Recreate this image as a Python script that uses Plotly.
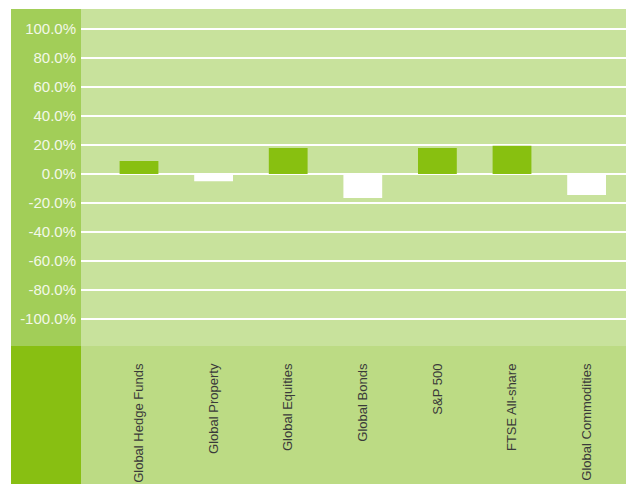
import plotly.graph_objects as go

categories = ["Global Hedge Funds", "Global Property", "Global Equities", "Global Bonds",
              "S&P 500", "FTSE All-share", "Global Commodities"]
returns_pct = [9.0, -5.0, 18.0, -16.5, 18.0, 19.5, -14.5]
tick_values = [100, 80, 60, 40, 20, 0, -20, -40, -60, -80, -100]
tick_labels = ["100.0%", "80.0%", "60.0%", "40.0%", "20.0%", "0.0%",
               "-20.0%", "-40.0%", "-60.0%", "-80.0%", "-100.0%"]

POS = "#88c010"
NEG = "#ffffff"
PLOT_BG = "#c8e29c"
LEFT_COL = "#a2ce58"
BOTTOM_BG = "#bcdb84"
BOTTOM_LEFT = "#88bf12"

W, H = 626, 484
ML, MR, MT, MB = 81, 0, 9, 138
pw = W - ML - MR
ph = H - MT - MB

def px_x(p):
    return (p - ML) / pw

def px_y(p):
    return (H - MB - p) / ph

fig = go.Figure()
fig.add_trace(go.Bar(
    x=categories,
    y=returns_pct,
    width=0.52,
    marker=dict(color=[POS if v >= 0 else NEG for v in returns_pct],
                line=dict(width=0)),
    hoverinfo="x+y",
))

shapes = [
    dict(type="rect", xref="paper", yref="paper", x0=px_x(11), x1=0, y0=0, y1=1,
         fillcolor=LEFT_COL, line=dict(width=0), layer="below"),
    dict(type="rect", xref="paper", yref="paper", x0=0, x1=1, y0=px_y(H), y1=0,
         fillcolor=BOTTOM_BG, line=dict(width=0), layer="below"),
    dict(type="rect", xref="paper", yref="paper", x0=px_x(11), x1=0, y0=px_y(H), y1=0,
         fillcolor=BOTTOM_LEFT, line=dict(width=0), layer="below"),
]

fig.update_layout(
    width=W, height=H,
    margin=dict(l=ML, r=MR, t=MT, b=MB, pad=0),
    paper_bgcolor="white",
    plot_bgcolor=PLOT_BG,
    showlegend=False,
    shapes=shapes,
    font=dict(family="Liberation Sans, Arial, sans-serif"),
    xaxis=dict(
        type="category",
        range=[-0.7775, 6.528],
        showgrid=False, zeroline=False, showline=False,
        ticks="",
        tickangle=-90,
        ticklabelstandoff=14,
        tickfont=dict(size=13, color="#3a3a3a"),
        fixedrange=True,
    ),
    yaxis=dict(
        range=[-118.6, 113.8],
        tickvals=tick_values,
        ticktext=tick_labels,
        showgrid=True, gridcolor="white", gridwidth=1.5,
        zeroline=True, zerolinecolor="white", zerolinewidth=1.5,
        showline=False, ticks="",
        ticklabelstandoff=4,
        tickfont=dict(size=15, color="#f3f8e8"),
        fixedrange=True,
    ),
)

fig.write_html(
    "out.html",
    config={"displayModeBar": False},
    post_script="document.body.style.margin='0';document.body.style.overflow='hidden';",
)
